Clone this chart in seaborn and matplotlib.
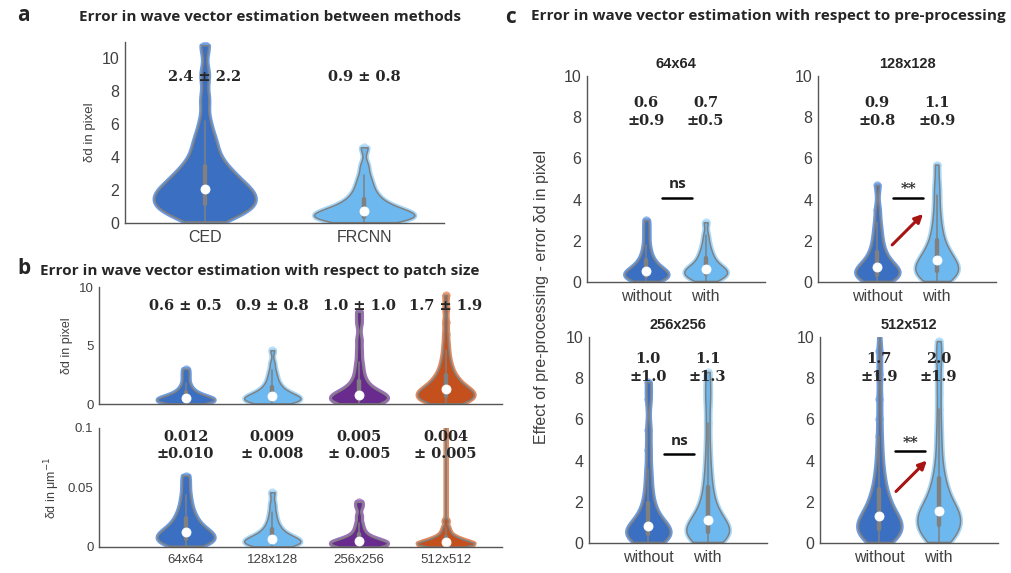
import numpy as np
import pandas as pd
import matplotlib
matplotlib.use("Agg")
import matplotlib.pyplot as plt
import matplotlib.ticker as mticker
import seaborn as sns

sns.set_style("white")
plt.rcParams['font.family'] = ['Liberation Sans', 'DejaVu Sans']

# ---------------------------------------------------------------
# data (per violin)
# ---------------------------------------------------------------
a_cats = ['CED', 'FRCNN']
a_ced = [0.1, 0.3, 0.45, 0.6, 0.7, 0.8, 0.9, 0.95, 1.0, 1.1, 1.2, 1.3, 1.4, 1.5, 1.6, 1.7,
         1.8, 1.85, 1.9, 2.0, 2.1, 2.2, 2.35, 2.5, 2.6, 2.75, 2.9, 3.0, 3.2, 3.4, 3.6, 3.9,
         4.2, 4.6, 5.0, 5.4, 6.2, 7.5, 9.0, 10.8]
a_frcnn = [0.05, 0.1, 0.15, 0.2, 0.25, 0.3, 0.3, 0.35, 0.4, 0.45, 0.5, 0.55, 0.6, 0.65, 0.7,
           0.75, 0.8, 0.9, 1.0, 1.1, 1.2, 1.35, 1.5, 1.7, 1.9, 2.2, 2.5, 2.9, 3.5, 4.6]
a_mean = [2.4, 0.9]
a_std = [2.2, 0.8]

b_cats = ['64x64', '128x128', '256x256', '512x512']
b_px_64 = [0.05, 0.1, 0.15, 0.2, 0.2, 0.25, 0.3, 0.3, 0.35, 0.4, 0.4, 0.45, 0.5, 0.55, 0.6,
           0.65, 0.7, 0.8, 0.9, 1.0, 1.1, 1.3, 1.5, 1.8, 2.2, 2.6, 3.0]
b_px_128 = [0.05, 0.1, 0.15, 0.2, 0.25, 0.3, 0.3, 0.35, 0.4, 0.45, 0.5, 0.55, 0.6, 0.65, 0.7,
            0.75, 0.8, 0.9, 1.0, 1.1, 1.2, 1.35, 1.5, 1.7, 1.9, 2.2, 2.5, 2.9, 3.5, 4.6]
b_px_256 = [0.05, 0.1, 0.15, 0.2, 0.25, 0.3, 0.35, 0.4, 0.45, 0.5, 0.55, 0.6, 0.65, 0.7, 0.75,
            0.8, 0.9, 1.0, 1.1, 1.25, 1.4, 1.6, 1.8, 2.1, 2.5, 3.0, 3.6, 4.5, 5.5, 7.0, 7.9]
b_px_512 = [0.05, 0.1, 0.15, 0.2, 0.25, 0.3, 0.35, 0.4, 0.45, 0.5, 0.55, 0.6, 0.65, 0.7, 0.75,
            0.8, 0.85, 0.9, 0.95, 1.0, 1.05, 1.1, 1.15, 1.2, 1.25, 1.3, 1.35, 1.4, 1.5, 1.6,
            1.7, 1.8, 1.9, 2.0, 2.1, 2.2, 2.35, 2.5, 2.7, 2.9, 3.1, 3.4, 3.7, 4.1, 4.6, 5.2,
            6.0, 7.0, 8.2, 9.3]
b_px_mean = [0.6, 0.9, 1.0, 1.7]
b_px_std = [0.5, 0.8, 1.0, 1.9]

b_um_64 = [0.001, 0.002, 0.003, 0.004, 0.005, 0.006, 0.006, 0.007, 0.008, 0.009, 0.010, 0.011,
           0.012, 0.013, 0.014, 0.015, 0.017, 0.019, 0.021, 0.023, 0.026, 0.029, 0.033, 0.038,
           0.044, 0.052, 0.060]
b_um_128 = [0.0005, 0.001, 0.0015, 0.002, 0.003, 0.003, 0.004, 0.004, 0.005, 0.005, 0.006,
            0.006, 0.007, 0.008, 0.009, 0.010, 0.011, 0.013, 0.015, 0.017, 0.020, 0.024, 0.029,
            0.036, 0.046]
b_um_256 = [0.0003, 0.0006, 0.001, 0.0013, 0.0016, 0.002, 0.0023, 0.0026, 0.003, 0.0033,
            0.0037, 0.004, 0.0045, 0.005, 0.0056, 0.0063, 0.007, 0.008, 0.009, 0.011, 0.013,
            0.016, 0.020, 0.026, 0.034, 0.038]
b_um_512 = [0.0003, 0.0006, 0.0009, 0.0012, 0.0015, 0.0018, 0.002, 0.0023, 0.0026, 0.0029,
            0.0032, 0.0035, 0.0038, 0.0042, 0.0046, 0.005, 0.0055, 0.006, 0.0066, 0.0073,
            0.008, 0.009, 0.010, 0.012, 0.014, 0.017, 0.022, 0.15]
b_um_text = ['0.012\n±0.010', '0.009\n± 0.008', '0.005\n± 0.005', '0.004\n± 0.005']

c_cats = ['without', 'with']
c_64_without = [0.05, 0.1, 0.15, 0.2, 0.2, 0.25, 0.3, 0.3, 0.35, 0.4, 0.4, 0.45, 0.5, 0.55, 0.6,
                0.65, 0.7, 0.8, 0.9, 1.0, 1.1, 1.3, 1.5, 1.8, 2.2, 2.6, 3.0]
c_64_with = [0.05, 0.1, 0.15, 0.2, 0.25, 0.3, 0.35, 0.4, 0.45, 0.5, 0.5, 0.55, 0.6, 0.65, 0.7,
             0.75, 0.8, 0.9, 1.0, 1.1, 1.2, 1.35, 1.5, 1.7, 1.95, 2.3, 2.9]
c_128_without = [0.05, 0.1, 0.15, 0.2, 0.25, 0.3, 0.3, 0.35, 0.4, 0.45, 0.5, 0.55, 0.6, 0.65,
                 0.7, 0.75, 0.8, 0.9, 1.0, 1.1, 1.2, 1.35, 1.5, 1.7, 1.9, 2.2, 2.5, 2.9, 3.5, 4.7]
c_128_with = [0.05, 0.1, 0.2, 0.25, 0.3, 0.4, 0.45, 0.5, 0.6, 0.65, 0.7, 0.8, 0.85, 0.9, 1.0,
              1.1, 1.2, 1.3, 1.4, 1.55, 1.7, 1.9, 2.1, 2.4, 2.7, 3.1, 3.6, 4.2, 4.8, 5.7]
c_256_without = [0.05, 0.1, 0.15, 0.2, 0.25, 0.3, 0.35, 0.4, 0.45, 0.5, 0.55, 0.6, 0.65, 0.7,
                 0.75, 0.8, 0.9, 1.0, 1.1, 1.25, 1.4, 1.6, 1.8, 2.1, 2.5, 3.0, 3.6, 4.5, 5.5,
                 7.0, 7.8]
c_256_with = [0.05, 0.1, 0.2, 0.25, 0.3, 0.35, 0.4, 0.5, 0.55, 0.6, 0.7, 0.75, 0.8, 0.9, 1.0,
              1.1, 1.2, 1.35, 1.5, 1.7, 1.9, 2.2, 2.5, 2.9, 3.4, 4.0, 4.8, 5.8, 6.8, 7.5, 8.3]
c_512_without = [0.05, 0.1, 0.15, 0.2, 0.25, 0.3, 0.35, 0.4, 0.45, 0.5, 0.55, 0.6, 0.65, 0.7,
                 0.75, 0.8, 0.85, 0.9, 0.95, 1.0, 1.05, 1.1, 1.15, 1.2, 1.25, 1.3, 1.35, 1.4,
                 1.5, 1.6, 1.7, 1.8, 1.9, 2.0, 2.1, 2.2, 2.35, 2.5, 2.7, 2.9, 3.1, 3.4, 3.7,
                 4.1, 4.6, 5.2, 6.0, 7.0, 8.2, 9.3, 12.0]
c_512_with = [0.05, 0.1, 0.2, 0.25, 0.3, 0.4, 0.45, 0.5, 0.6, 0.65, 0.7, 0.8, 0.85, 0.9, 1.0,
              1.05, 1.1, 1.2, 1.25, 1.3, 1.35, 1.4, 1.45, 1.5, 1.55, 1.6, 1.7, 1.8, 1.9, 2.0,
              2.1, 2.2, 2.35, 2.5, 2.65, 2.8, 3.0, 3.2, 3.5, 3.8, 4.2, 4.7, 5.2, 5.8, 6.5,
              7.3, 8.0, 8.8, 9.3, 9.8]
c_mean = {'64x64': [0.6, 0.7], '128x128': [0.9, 1.1], '256x256': [1.0, 1.1], '512x512': [1.7, 2.0]}
c_std = {'64x64': [0.9, 0.5], '128x128': [0.8, 0.9], '256x256': [1.0, 1.3], '512x512': [1.9, 1.9]}
c_sig = {'64x64': 'ns', '128x128': '**', '256x256': 'ns', '512x512': '**'}

# ---------------------------------------------------------------
# style
# ---------------------------------------------------------------
DARK = '#3b6fc1'
LIGHT = '#6db9ef'
PURPLE = '#6a2b8e'
ORANGE = '#c4501d'
HALO = {DARK: '#6b9be0', LIGHT: '#a6d7f8', PURPLE: '#9c70bb', ORANGE: '#e08a5e'}
AXCOL = '#555555'
TXT = '#404040'
SERIF = ['DejaVu Serif']
TITLE_FONT = ['Open Sans', 'DejaVu Sans']


def draw_violins(ax, cats, samples, colors, bws, width=0.65):
    df = pd.concat([pd.DataFrame({'grp': c, 'val': s}) for c, s in zip(cats, samples)],
                   ignore_index=True)
    for c, col, bw in zip(cats, colors, bws):
        sub = df[df['grp'] == c]
        sns.stripplot(data=sub, x='grp', y='val', order=cats, color=HALO[col], jitter=False,
                      size=6, alpha=0.7, linewidth=0, ax=ax, zorder=0.5)
        sns.violinplot(data=sub, x='grp', y='val', order=cats, color=col, cut=0, width=width,
                       density_norm='width', bw_adjust=bw, inner=None, linecolor=HALO[col],
                       linewidth=3.5, saturation=1, ax=ax)
        sns.violinplot(data=sub, x='grp', y='val', order=cats, color=col, cut=0, width=width,
                       density_norm='width', bw_adjust=bw, inner='box', linecolor='#808080',
                       linewidth=1.1, saturation=1,
                       inner_kws=dict(box_width=3.2, whis_width=1.1, marker='o'), ax=ax)
    for ln in ax.lines:
        if ln.get_marker() == 'o':
            ln.set_markersize(6.5)
            ln.set_markeredgewidth(0.6)
    ax.set_xlabel('')
    ax.set_ylabel('')


def style_axes(ax, tick_size):
    sns.despine(ax=ax)
    for s in ['left', 'bottom']:
        ax.spines[s].set_color(AXCOL)
        ax.spines[s].set_linewidth(1.0)
    ax.tick_params(axis='y', direction='in', length=3, color=AXCOL, labelcolor=TXT,
                   labelsize=tick_size, pad=4)
    ax.tick_params(axis='x', length=0, labelcolor=TXT, labelsize=tick_size, pad=5)


fig = plt.figure(figsize=(10.11, 5.73), dpi=100)

# ---------------------------------------------------------------
# a
# ---------------------------------------------------------------
ax_a = fig.add_axes([0.1236, 0.6108, 0.3155, 0.3159])
draw_violins(ax_a, a_cats, [a_ced, a_frcnn], [DARK, LIGHT], [0.5, 0.6], width=0.63)
ax_a.set_xlim(-0.5, 1.5)
ax_a.set_ylim(0, 11)
ax_a.set_yticks([0, 2, 4, 6, 8, 10])
style_axes(ax_a, 11.5)
ax_a.set_ylabel('δd in pixel', fontsize=9.5, color=TXT)
for i, (m, s) in enumerate(zip(a_mean, a_std)):
    ax_a.text(i, 8.9, f'{m:.1f} ± {s:.1f}', ha='center', va='center', family=SERIF,
              fontweight='bold', fontsize=10.5)

# ---------------------------------------------------------------
# b
# ---------------------------------------------------------------
b_cols = [DARK, LIGHT, PURPLE, ORANGE]
ax_b1 = fig.add_axes([0.0979, 0.2949, 0.3986, 0.2042])
draw_violins(ax_b1, b_cats, [b_px_64, b_px_128, b_px_256, b_px_512], b_cols,
             [0.6, 0.6, 0.45, 0.45])
ax_b1.set_xlim(-1, 3.65)
ax_b1.set_ylim(0, 10)
ax_b1.set_yticks([0, 5, 10])
style_axes(ax_b1, 9.5)
ax_b1.set_xticklabels([])
ax_b1.set_ylabel('δd in pixel', fontsize=9, color=TXT)
for i, (m, s) in enumerate(zip(b_px_mean, b_px_std)):
    ax_b1.text(i, 8.4, f'{m:.1f} ± {s:.1f}', ha='center', va='center', family=SERIF,
               fontweight='bold', fontsize=10.5)

ax_b2 = fig.add_axes([0.0979, 0.0454, 0.3986, 0.2077])
draw_violins(ax_b2, b_cats, [b_um_64, b_um_128, b_um_256, b_um_512], b_cols,
             [0.6, 0.6, 0.5, 0.12])
ax_b2.set_xlim(-1, 3.65)
ax_b2.set_ylim(0, 0.1)
ax_b2.set_yticks([0, 0.05, 0.1])
ax_b2.yaxis.set_major_formatter(mticker.FuncFormatter(lambda v, _: f'{v:g}'))
style_axes(ax_b2, 9.5)
ax_b2.set_ylabel('δd in μm$^{-1}$', fontsize=9, color=TXT)
for i, t in enumerate(b_um_text):
    ax_b2.text(i, 0.085, t, ha='center', va='center', family=SERIF,
               fontweight='bold', fontsize=10.5, linespacing=1.25)

# ---------------------------------------------------------------
# c
# ---------------------------------------------------------------
c_panels = [
    ('64x64', [0.5806, 0.5079, 0.1761, 0.3595], [c_64_without, c_64_with], [0.6, 0.6],
     (4.1, 4.75), None),
    ('128x128', [0.8091, 0.5079, 0.1761, 0.3595], [c_128_without, c_128_with], [0.6, 0.6],
     (4.1, 4.5), ((0.25, 1.8), (0.77, 3.3))),
    ('256x256', [0.5826, 0.0524, 0.1761, 0.3595], [c_256_without, c_256_with], [0.45, 0.45],
     (4.3, 4.95), None),
    ('512x512', [0.8111, 0.0524, 0.1761, 0.3595], [c_512_without, c_512_with], [0.4, 0.45],
     (4.45, 4.85), ((0.28, 2.5), (0.8, 4.0))),
]
for name, rect, samples, bws, (line_y, sig_y), arrow in c_panels:
    ax = fig.add_axes(rect)
    draw_violins(ax, c_cats, samples, [DARK, LIGHT], bws, width=0.72)
    ax.set_xlim(-1, 2)
    ax.set_ylim(0, 10)
    ax.set_yticks([0, 2, 4, 6, 8, 10])
    style_axes(ax, 11.5)
    ax.set_title(name, fontweight='bold', fontsize=10.5, pad=6)
    for i, (m, s) in enumerate(zip(c_mean[name], c_std[name])):
        ax.text(i, 8.5 if rect[1] < 0.3 else 8.25, f'{m:.1f}\n±{s:.1f}', ha='center',
                va='center', family=SERIF, fontweight='bold', fontsize=10.5, linespacing=1.3)
    ax.plot([0.27, 0.77], [line_y, line_y], color='black', lw=1.8)
    if c_sig[name] == 'ns':
        ax.text(0.52, sig_y, 'ns', ha='center', va='center', fontweight='bold',
                fontsize=11, family=TITLE_FONT)
    else:
        ax.text(0.52, sig_y, '**', ha='center', va='center', fontweight='bold',
                fontsize=11, family=SERIF)
    if arrow is not None:
        ax.annotate('', xy=arrow[1], xytext=arrow[0],
                    arrowprops=dict(arrowstyle='-|>', color='#a81414', lw=2.2,
                                    mutation_scale=12, shrinkA=0, shrinkB=0))

fig.text(0.536, 0.482, 'Effect of pre-processing - error δd in pixel', rotation=90,
         ha='center', va='center', fontsize=11.5, color=TXT)

# panel letters and headings
fig.text(0.017, 0.973, 'a', fontsize=15, fontweight='bold', family=TITLE_FONT, va='center')
fig.text(0.017, 0.532, 'b', fontsize=15, fontweight='bold', family=TITLE_FONT, va='center')
fig.text(0.500, 0.970, 'c', fontsize=15, fontweight='bold', family=TITLE_FONT, va='center')
fig.text(0.267, 0.970, 'Error in wave vector estimation between methods', ha='center',
         va='center', fontsize=11, fontweight='bold', family=TITLE_FONT)
fig.text(0.257, 0.527, 'Error in wave vector estimation with respect to patch size',
         ha='center', va='center', fontsize=11, fontweight='bold', family=TITLE_FONT)
fig.text(0.760, 0.972, 'Error in wave vector estimation with respect to pre-processing',
         ha='center', va='center', fontsize=11, fontweight='bold', family=TITLE_FONT)

fig.savefig('out.png', dpi=100)
